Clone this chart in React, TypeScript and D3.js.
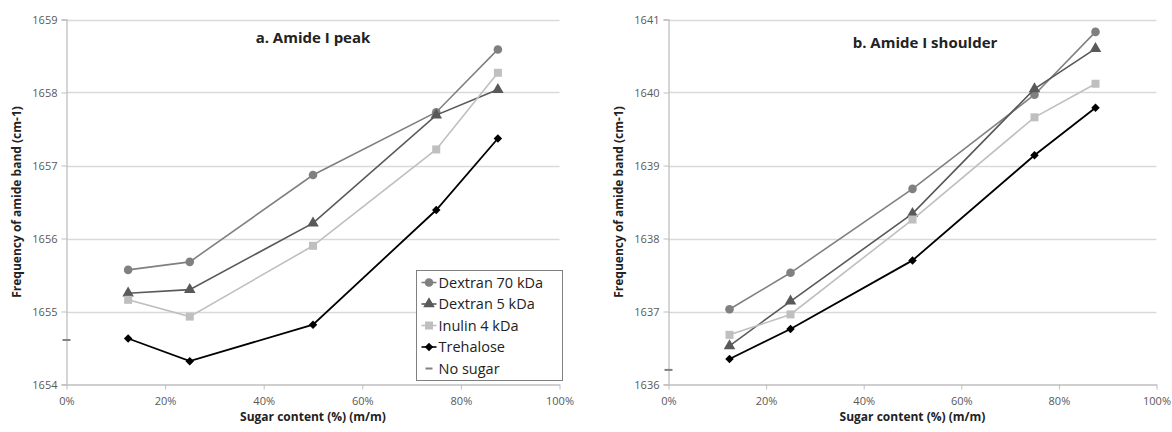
import { useRef, useEffect } from 'react';
import * as d3 from 'd3';

const sugar = [12.5, 25, 50, 75, 87.5];
const xTicks = [0, 20, 40, 60, 80, 100];

const peakDextran70 = [1655.57, 1655.68, 1656.87, 1657.73, 1658.59];
const peakDextran5 = [1655.25, 1655.3, 1656.21, 1657.69, 1658.04];
const peakInulin = [1655.16, 1654.93, 1655.9, 1657.22, 1658.27];
const peakTrehalose = [1654.63, 1654.32, 1654.82, 1656.39, 1657.37];
const peakNoSugar = 1654.61;

const shoulderDextran70 = [1637.03, 1637.53, 1638.68, 1639.97, 1640.83];
const shoulderDextran5 = [1636.53, 1637.14, 1638.34, 1640.05, 1640.6];
const shoulderInulin = [1636.68, 1636.96, 1638.26, 1639.66, 1640.12];
const shoulderTrehalose = [1636.35, 1636.76, 1637.7, 1639.14, 1639.79];
const shoulderNoSugar = 1636.2;

const seriesNames = ['Dextran 70 kDa', 'Dextran 5 kDa', 'Inulin 4 kDa', 'Trehalose', 'No sugar'];
const seriesColors = ['#808080', '#595959', '#bfbfbf', '#000000', '#808080'];

const font = '"Open Sans", "Noto Sans", sans-serif';

// marker drawn centred on 0,0
function marker(sel: any, i: number) {
  const c = seriesColors[i];
  if (i === 0) sel.append('circle').attr('r', 4.3).attr('fill', c);
  else if (i === 1) sel.append('path').attr('d', d3.symbol().type(d3.symbolTriangle).size(58)()).attr('fill', c);
  else if (i === 2) sel.append('rect').attr('x', -4).attr('y', -4).attr('width', 8).attr('height', 8).attr('fill', c);
  else sel.append('rect').attr('x', -3).attr('y', -3).attr('width', 6).attr('height', 6)
    .attr('transform', 'rotate(45)').attr('fill', c);
}

export default function App() {
  const ref = useRef<SVGSVGElement>(null);

  useEffect(() => {
    if (!ref.current) return;
    const svg = d3.select(ref.current);
    svg.selectAll('*').remove();

    const panels = [
      {
        left: 66.5, right: 559.5, yDomain: [1654, 1659],
        data: [peakDextran70, peakDextran5, peakInulin, peakTrehalose],
        noSugar: peakNoSugar, title: 'a. Amide I peak', titleX: 313, titleY: 43,
        legend: true,
      },
      {
        left: 668.5, right: 1156.5, yDomain: [1636, 1641],
        data: [shoulderDextran70, shoulderDextran5, shoulderInulin, shoulderTrehalose],
        noSugar: shoulderNoSugar, title: 'b. Amide I shoulder', titleX: 925, titleY: 48,
        legend: false,
      },
    ];

    panels.forEach(p => {
      const g = svg.append('g');
      const x = d3.scaleLinear().domain([0, 100]).range([p.left, p.right]);
      const y = d3.scaleLinear().domain(p.yDomain).range([384.5, 19.5]);
      const yTicks = d3.range(p.yDomain[0], p.yDomain[1] + 1);

      // gridlines
      g.append('g')
        .selectAll('line')
        .data(yTicks.slice(1))
        .join('line')
        .attr('x1', p.left)
        .attr('x2', p.right)
        .attr('y1', d => Math.round(y(d)) + 0.5)
        .attr('y2', d => Math.round(y(d)) + 0.5)
        .attr('stroke', '#d9d9d9')
        .attr('stroke-width', 1.3);

      // y axis
      const yAxis = g.append('g')
        .attr('transform', `translate(${p.left},0)`)
        .call(d3.axisLeft(y).tickValues(yTicks).tickFormat(d3.format('d')).tickSize(5).tickPadding(4));
      yAxis.select('.domain').attr('stroke', '#bfbfbf').attr('stroke-width', 1.3);
      yAxis.selectAll('.tick line').attr('stroke', '#bfbfbf');
      yAxis.selectAll('text').attr('fill', '#595959').style('font', `11px ${font}`);

      // x axis
      const xAxis = g.append('g')
        .attr('transform', `translate(0,384.5)`)
        .call(d3.axisBottom(x).tickValues(xTicks).tickFormat(d => `${d}%`).tickSize(5).tickPadding(8).tickSizeOuter(0));
      xAxis.select('.domain').attr('stroke', '#bfbfbf').attr('stroke-width', 1.3);
      xAxis.selectAll('.tick line').attr('stroke', '#bfbfbf');
      xAxis.selectAll('text').attr('fill', '#595959').style('font', `11px ${font}`);

      // axis titles
      const mid = (p.left + p.right) / 2;
      g.append('text')
        .attr('x', mid)
        .attr('y', 421)
        .attr('text-anchor', 'middle')
        .style('font', `bold 12px ${font}`)
        .attr('fill', '#222')
        .text('Sugar content (%) (m/m)');
      g.append('text')
        .attr('transform', `translate(${p.left - 46},202) rotate(-90)`)
        .attr('text-anchor', 'middle')
        .style('font', `bold 12px ${font}`)
        .attr('fill', '#222')
        .text('Frequency of amide band (cm-1)');

      g.append('text')
        .attr('x', p.titleX)
        .attr('y', p.titleY)
        .attr('text-anchor', 'middle')
        .style('font', `bold 15px ${font}`)
        .attr('fill', '#222')
        .text(p.title);

      const line = d3.line<number>()
        .x((_, i) => x(sugar[i]))
        .y(d => y(d));

      p.data.forEach((vals, si) => {
        g.append('path')
          .attr('d', line(vals))
          .attr('fill', 'none')
          .attr('stroke', seriesColors[si])
          .attr('stroke-width', si === 3 ? 1.8 : 1.6);
        g.append('g')
          .selectAll('g')
          .data(vals)
          .join('g')
          .attr('transform', (d, i) => `translate(${x(sugar[i])},${y(d)})`)
          .each(function () { marker(d3.select(this), si); });
      });

      // no sugar marker
      g.append('line')
        .attr('x1', x(0) - 4)
        .attr('x2', x(0) + 4)
        .attr('y1', y(p.noSugar))
        .attr('y2', y(p.noSugar))
        .attr('stroke', seriesColors[4])
        .attr('stroke-width', 2);

      if (p.legend) {
        const lg = g.append('g').attr('transform', 'translate(416.5,270.5)');
        lg.append('rect')
          .attr('width', 146)
          .attr('height', 110)
          .attr('fill', 'white')
          .attr('stroke', '#808080')
          .attr('stroke-width', 1);
        seriesNames.forEach((name, i) => {
          const cy = 12 + i * 21.5;
          if (i < 4) {
            lg.append('line')
              .attr('x1', 5).attr('x2', 20).attr('y1', cy).attr('y2', cy)
              .attr('stroke', seriesColors[i]).attr('stroke-width', 1.6);
            marker(lg.append('g').attr('transform', `translate(12.5,${cy})`), i);
          } else {
            lg.append('line')
              .attr('x1', 9).attr('x2', 16).attr('y1', cy).attr('y2', cy)
              .attr('stroke', seriesColors[i]).attr('stroke-width', 2);
          }
          lg.append('text')
            .attr('x', 22)
            .attr('y', cy + 5)
            .style('font', `14.5px ${font}`)
            .attr('fill', '#222')
            .text(name);
        });
      }
    });
  }, []);

  return (
    <svg ref={ref} width={1172} height={432} style={{ position: 'absolute', left: 0, top: 0, background: 'white' }} />
  );
}
